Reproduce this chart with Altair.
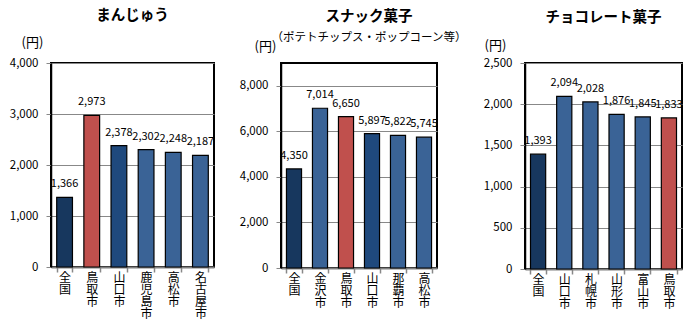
import altair as alt
import pandas as pd

FONT = "Noto Sans CJK JP"

cats1 = ["全国", "鳥取市", "山口市", "鹿児島市", "高松市", "名古屋市"]
vals1 = [1366, 2973, 2378, 2302, 2248, 2187]
cats2 = ["全国", "金沢市", "鳥取市", "山口市", "那覇市", "高松市"]
vals2 = [4350, 7014, 6650, 5897, 5822, 5745]
cats3 = ["全国", "山口市", "札幌市", "山形市", "富山市", "鳥取市"]
vals3 = [1393, 2094, 2028, 1876, 1845, 1833]

titles = ["まんじゅう", "スナック菓子", "チョコレート菓子"]
subtitles = ["", "（ポテトチップス・ポップコーン等）", ""]
ticks1 = [0, 1000, 2000, 3000, 4000]
ticks2 = [0, 2000, 4000, 6000, 8000]
ticks3 = [0, 500, 1000, 1500, 2000, 2500]
ymax = [4000, 9000, 2500]
solid_cats = [["山口市"], ["山口市"], []]

GRP_DOMAIN = ["nat", "tot", "solid", "dot"]
GRP_RANGE = ["#17375E", "#C0504D", "#1F497D", "#3A6396"]


def grp(c, solid):
    if c == "全国":
        return "nat"
    if c == "鳥取市":
        return "tot"
    if c in solid:
        return "solid"
    return "dot"


def panel(cats, vals, ticks, top, title, subtitle, solid, w, h,
          toff, tdx, tx, ty, minext):
    df = pd.DataFrame({"cat": cats, "val": vals,
                       "grp": [grp(c, solid) for c in cats]})
    x = alt.X("cat:N", sort=cats,
              scale=alt.Scale(paddingInner=0.42, paddingOuter=0.21),
              axis=alt.Axis(title=None, labelAngle=0,
                            labelExpr="split(datum.label, '')",
                            labelLineHeight=12, labelFontSize=12,
                            labelFont=FONT, labelColor="#000",
                            labelBaseline="top", labelPadding=0,
                            tickBand="extent", tickColor="#888",
                            tickSize=5, tickWidth=1.5,
                            domainColor="#808080", domainWidth=2))
    y = alt.Y("val:Q", scale=alt.Scale(domain=[0, top], nice=False),
              axis=alt.Axis(values=ticks, format=",.0f", title="(円)",
                            titleAngle=0, titleX=tx, titleY=ty,
                            titleAlign="center", titleBaseline="middle",
                            titleFont=FONT, titleFontSize=13,
                            titleFontWeight="normal", titleColor="#000",
                            labelFont=FONT, labelFontSize=11.5,
                            labelColor="#000", labelPadding=8,
                            grid=True, gridColor="#888", gridWidth=1,
                            tickColor="#888", tickSize=5,
                            domainColor="#000", domainWidth=1.5,
                            minExtent=minext))
    base = alt.Chart(df).encode(x=x, y=y)
    bars = base.mark_bar(stroke="#000", strokeWidth=1.2).encode(
        color=alt.Color("grp:N", scale=alt.Scale(domain=GRP_DOMAIN,
                                                 range=GRP_RANGE),
                        legend=None))
    labels = base.mark_text(baseline="bottom", dy=-8, font=FONT,
                            fontSize=11, color="#000").encode(
        text=alt.Text("val:Q", format=",.0f"))
    tp = dict(text=title, frame="group", anchor="middle", offset=toff,
              dx=tdx, font=FONT, fontSize=14.5, fontWeight="bold",
              color="#000")
    if subtitle:
        tp.update(subtitle=subtitle, subtitleFont=FONT,
                  subtitleFontSize=11.5, subtitleColor="#000",
                  subtitlePadding=7.5)
    return (bars + labels).properties(width=w, height=h,
                                      title=alt.TitleParams(**tp))


p1 = panel(cats1, vals1, ticks1, ymax[0], titles[0], subtitles[0],
           solid_cats[0], 163, 204, 13, 0, -19, -21, 50)
p2 = panel(cats2, vals2, ticks2, ymax[1], titles[1], subtitles[1],
           solid_cats[1], 156, 205, -4, 10, -16, -16.5, 64)
p3 = panel(cats3, vals3, ticks3, ymax[2], titles[2], subtitles[2],
           solid_cats[2], 157, 206, 14, 0, -30, -18, 56)

chart = alt.hconcat(p1, p2, p3, spacing=0).properties(
    padding={"left": 0, "top": 6, "right": 0, "bottom": 0}
).configure_view(stroke="#000", strokeWidth=2)

chart.save("out.html", embed_options={"renderer": "svg", "actions": False})
